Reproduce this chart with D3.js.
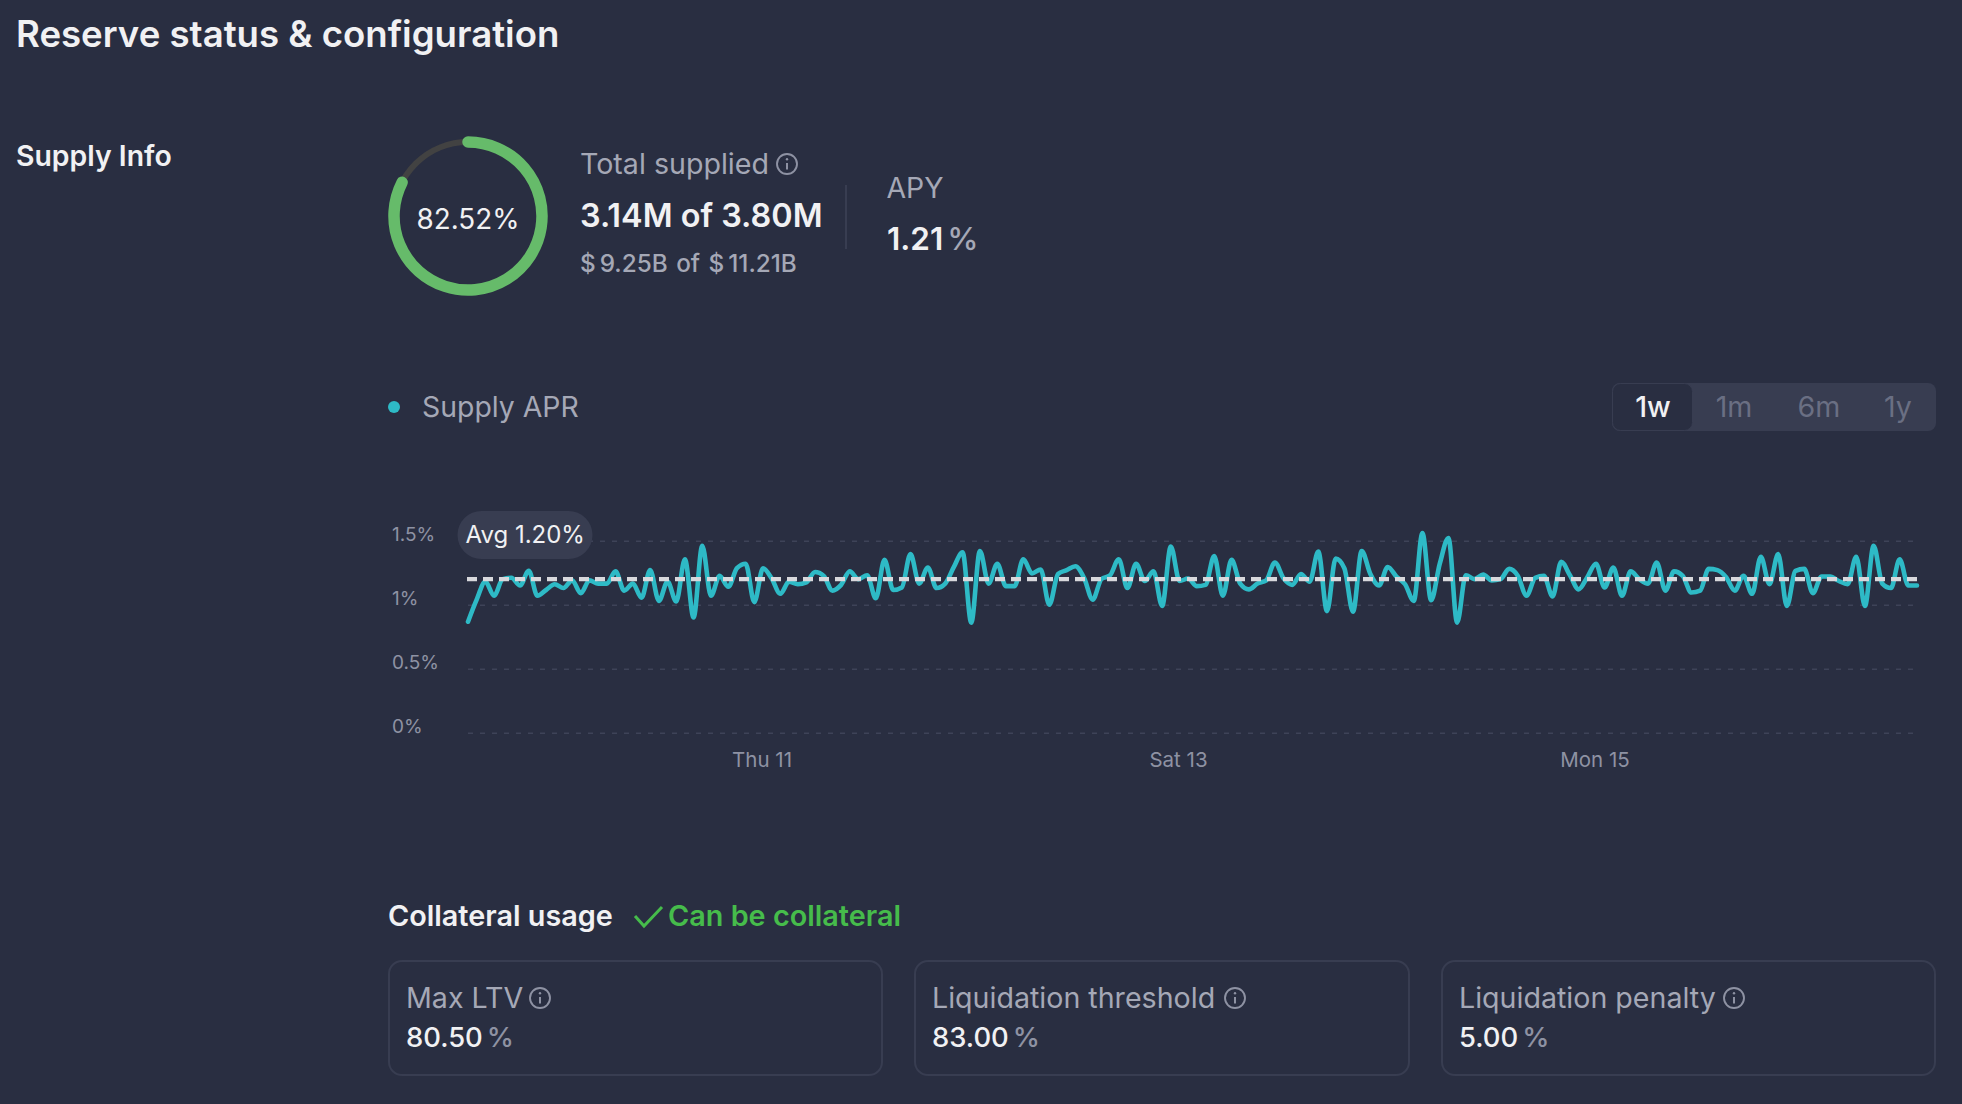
<!DOCTYPE html>
<html>
<head>
<meta charset="utf-8">
<title>Reserve status & configuration</title>
<script src="https://cdn.jsdelivr.net/npm/d3@7"></script>
<style>
  html, body { margin: 0; padding: 0; background: #292E41; }
  svg { display: block; font-family: Inter, "Noto Sans", sans-serif; }
</style>
</head>
<body>
<div id="chart"></div>
<script>
// Supply APR, one reading per hour (%)
const aprValues = [
  0.867,1.04,1.18,1.07,1.2,1.21,1.15,1.265,1.07,1.115,1.16,1.13,1.19,1.09,1.19,1.165,1.165,1.26,1.11,1.165,
  1.055,1.27,1.03,1.18,1.025,1.355,0.90,1.46,1.07,1.225,1.14,1.285,1.32,1.02,1.285,1.205,1.085,1.18,1.16,1.175,
  1.255,1.225,1.11,1.155,1.26,1.2,1.23,1.05,1.35,1.115,1.135,1.395,1.165,1.29,
  1.13,1.165,1.295,1.41,0.86,1.42,1.165,1.32,1.145,1.145,1.355,1.245,1.275,1.0,1.24,1.27,1.30,1.21,1.04,1.2,
  1.23,1.355,1.13,1.32,1.185,1.26,0.99,1.455,1.185,1.205,1.145,1.155,1.38,1.07,1.35,1.165,1.12,1.165,1.19,1.33,
  1.205,1.155,1.24,1.18,1.415,0.95,1.36,1.285,0.945,1.42,1.24,1.15,1.295,1.22,1.16,1.03,1.56,1.035,
  1.32,1.52,0.86,1.23,1.2,1.235,1.19,1.2,1.28,1.225,1.07,1.21,1.225,1.065,1.335,1.23,1.12,1.215,1.32,1.135,
  1.29,1.07,1.26,1.2,1.165,1.33,1.11,1.26,1.225,1.095,1.11,1.28,1.27,1.215,1.11,1.225,1.085,1.375,1.16,1.395,
  0.99,1.265,1.28,1.09,1.22,1.22,1.185,1.16,1.375,0.99,1.46,1.165,1.13,1.355,1.15,1.15
];
const avgApr = 1.20;
const startHour = new Date(2024, 0, 9, 14);
const yTicks = [0, 0.5, 1, 1.5];
const xTickDates = [new Date(2024, 0, 11), new Date(2024, 0, 13), new Date(2024, 0, 15)];
const xTickLabels = ["Thu 11", "Sat 13", "Mon 15"];

const suppliedPct = 82.52;
const ranges = ["1w", "1m", "6m", "1y"];
const cardLabels = ["Max LTV", "Liquidation threshold", "Liquidation penalty"];
const cardValues = ["80.50", "83.00", "5.00"];

const W = 1962, H = 1104;
const white = "#F1F1F3", gray = "#A5A8B6", dim = "#8E92A3", line = "#383D51", cyan = "#2EBAC6", ok = "#46BC4B";

const svg = d3.select("#chart").append("svg").attr("width", W).attr("height", H);

function label(x, y, text, size, weight, fill, anchor) {
  return svg.append("text")
    .attr("x", x).attr("y", y)
    .attr("font-size", size)
    .attr("font-weight", weight || 400)
    .attr("fill", fill || white)
    .attr("text-anchor", anchor || "start")
    .text(text);
}

function infoIcon(cx, cy) {
  const g = svg.append("g").attr("transform", `translate(${cx}, ${cy})`)
    .attr("stroke", dim).attr("fill", "none");
  g.append("circle").attr("r", 10).attr("stroke-width", 1.9);
  g.append("line").attr("y1", -1).attr("y2", 5.5).attr("stroke-width", 2);
  g.append("circle").attr("cy", -4.8).attr("r", 1.2).attr("fill", dim).attr("stroke", "none");
}

// headings
label(16, 46.5, "Reserve status & configuration", 36.6, 600);
label(16, 166, "Supply Info", 28.4, 600);

// progress ring
const ringX = 468, ringY = 216, ringR = 74;
const ringPct = d3.scaleLinear().domain([0, 100]).range([-Math.PI / 2, 1.5 * Math.PI]);
const track = d3.path();
track.arc(ringX, ringY, ringR, 0, 2 * Math.PI);
svg.append("path").attr("d", track.toString()).attr("fill", "none").attr("stroke", "#424242").attr("stroke-width", 6);
const ring = d3.path();
ring.arc(ringX, ringY, ringR, ringPct(0), ringPct(suppliedPct));
svg.append("path").attr("d", ring.toString()).attr("fill", "none")
  .attr("stroke", "#66BB6A").attr("stroke-width", 11.5).attr("stroke-linecap", "round");
label(ringX, 228.5, suppliedPct.toFixed(2) + "%", 27.8, 400, white, "middle");

// total supplied
label(580, 174, "Total supplied", 28.6, 400, gray);
infoIcon(787, 164);
label(580, 227, "3.14M of 3.80M", 32.4, 600);
const usd = label(580, 271.5, "", 24.3, 500, gray);
usd.append("tspan").text("$");
usd.append("tspan").attr("dx", 4).text("9.25B");
usd.append("tspan").attr("dx", 8.5).text("of");
usd.append("tspan").attr("dx", 8.5).text("$");
usd.append("tspan").attr("dx", 4).text("11.21B");

svg.append("line").attr("x1", 846).attr("x2", 846).attr("y1", 185).attr("y2", 249).attr("stroke", line).attr("stroke-width", 2);
label(886.5, 197.5, "APY", 28.4, 400, gray);
const apy = label(887, 250, "1.21", 31.5, 600);
apy.append("tspan").attr("dx", 4).attr("fill", gray).attr("font-weight", 500).text("%");

// legend
svg.append("circle").attr("cx", 394).attr("cy", 407).attr("r", 6).attr("fill", cyan);
label(422, 417, "Supply APR", 28.4, 400, gray);

// time range toggle
svg.append("rect").attr("x", 1612).attr("y", 383).attr("width", 324).attr("height", 48).attr("rx", 8).attr("fill", line);
svg.append("rect").attr("x", 1612.5).attr("y", 383.5).attr("width", 80).attr("height", 47).attr("rx", 8)
  .attr("fill", "#292E41").attr("stroke", line);
const rangeX = d3.scaleOrdinal().domain(ranges).range([1653, 1734, 1819, 1898]);
ranges.forEach((r, i) => label(rangeX(r), 417, r, 28.6, i === 0 ? 500 : 400, i === 0 ? white : "#6A6F83", "middle"));

// line chart
const x = d3.scaleTime()
  .domain([startHour, d3.timeHour.offset(startHour, aprValues.length - 1)])
  .range([468, 1917]);
const y = d3.scaleLinear().domain([0, 1.5]).range([732.7, 540.7]);

const yAxis = svg.append("g")
  .attr("transform", "translate(468, 0)")
  .call(d3.axisLeft(y).tickValues(yTicks).tickSize(-(1917 - 468)).tickPadding(0).tickFormat(d => d + "%"));
yAxis.select(".domain").remove();
yAxis.selectAll(".tick line").attr("stroke", "#3E4358").attr("stroke-width", 1.5).attr("stroke-dasharray", "5 7");
yAxis.selectAll(".tick text")
  .attr("x", -76).attr("dy", 0)
  .attr("text-anchor", "start")
  .attr("font-family", "Inter, sans-serif").attr("font-size", 19).attr("fill", dim);

const xAxis = svg.append("g")
  .attr("transform", "translate(0, 767)")
  .call(d3.axisBottom(x).tickValues(xTickDates).tickSize(0).tickPadding(0)
    .tickFormat((d, i) => xTickLabels[i]));
xAxis.select(".domain").remove();
xAxis.selectAll(".tick text")
  .attr("y", 0).attr("dy", 0).attr("dx", -1.5)
  .attr("font-family", "Inter, sans-serif").attr("font-size", 20.5).attr("fill", dim);

const aprLine = d3.line()
  .x((d, i) => x(d3.timeHour.offset(startHour, i)))
  .y(d => y(d))
  .curve(d3.curveMonotoneX);
svg.append("path").datum(aprValues)
  .attr("d", aprLine).attr("fill", "none")
  .attr("stroke", cyan).attr("stroke-width", 4.6).attr("stroke-linecap", "round").attr("stroke-linejoin", "round");

// average marker
svg.append("line")
  .attr("x1", 467).attr("x2", x.range()[1])
  .attr("y1", y(avgApr)).attr("y2", y(avgApr))
  .attr("stroke", "#D8D8DC").attr("stroke-width", 4.2).attr("stroke-dasharray", "10 6");
svg.append("rect").attr("x", 457.5).attr("y", 511).attr("width", 135).attr("height", 48).attr("rx", 24).attr("fill", line);
label(465.5, 542.5, "Avg " + avgApr.toFixed(2) + "%", 24, 400, white);

// collateral usage
label(388, 925.5, "Collateral usage", 28.8, 600);
svg.append("path").attr("d", "M635 916 L644 926 L662 907").attr("fill", "none").attr("stroke", ok).attr("stroke-width", 3);
label(668, 925.5, "Can be collateral", 28.8, 600, ok);

const cardX = [389, 915, 1442];
const cardW = [493, 494, 493];
const iconX = [540, 1235, 1734];
cardLabels.forEach((name, i) => {
  svg.append("rect").attr("x", cardX[i]).attr("y", 961).attr("width", cardW[i]).attr("height", 114)
    .attr("rx", 13).attr("fill", "none").attr("stroke", line).attr("stroke-width", 2);
  label(cardX[i] + 17, 1007.5, name, 28.6, 400, gray);
  infoIcon(iconX[i], 998);
  const val = label(cardX[i] + 17, 1047, cardValues[i], 27.4, 500);
  val.append("tspan").attr("dx", 4).attr("fill", dim).text("%");
});
</script>
</body>
</html>
